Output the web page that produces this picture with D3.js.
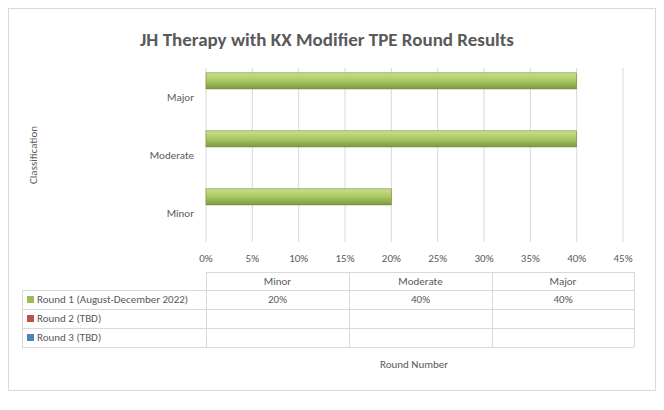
<!DOCTYPE html><html><head><meta charset="utf-8"><script src="https://cdn.jsdelivr.net/npm/d3@7"></script>
<style>body{margin:0;background:#fff}text{font-family:Calibri,Carlito,"Open Sans",sans-serif;fill:#595959}</style></head><body><svg id="c" width="664" height="410"></svg><script>
const categories=["Minor","Moderate","Major"];
const seriesNames=["Round 1 (August-December 2022)","Round 2 (TBD)","Round 3 (TBD)"];
const round1=[0.20,0.40,0.40];
const round2=[null,null,null];
const round3=[null,null,null];
const ticks=[0,0.05,0.10,0.15,0.20,0.25,0.30,0.35,0.40,0.45];
const colors=["#9bbb59","#c0504d","#4f81bd"];
const svg=d3.select("#c");
svg.append("rect").attr("x",8.5).attr("y",8.5).attr("width",647).attr("height",382).attr("fill","#fff").attr("stroke","#d9d9d9");
svg.append("text").attr("x",327).attr("y",46).attr("text-anchor","middle").attr("font-size",19).attr("font-weight","bold").text("JH Therapy with KX Modifier TPE Round Results");
const x=d3.scaleLinear().domain([0,0.45]).range([206,623]);
const y=d3.scaleBand().domain(categories.slice().reverse()).range([68,242]);
const g=svg.append("g");
ticks.forEach(t=>{g.append("line").attr("x1",x(t)).attr("x2",x(t)).attr("y1",68).attr("y2",242).attr("stroke","#d9d9d9");
g.append("text").attr("x",x(t)).attr("y",262).attr("text-anchor","middle").attr("font-size",11).text(d3.format(".0%")(t));});
const defs=svg.append("defs");
const gr=defs.append("linearGradient").attr("id","gb").attr("x1",0).attr("y1",0).attr("x2",0).attr("y2",1);
[["0%","#c9e08a"],["50%","#a8c862"],["100%","#7f9a3e"]].forEach(s=>gr.append("stop").attr("offset",s[0]).attr("stop-color",s[1]));
const all=[round1,round2,round3];
const sub=d3.scaleBand().domain([0,1,2]).range([0,y.bandwidth()]).paddingInner(0).paddingOuter(0.3);
all.forEach((vals,si)=>vals.forEach((v,i)=>{if(v==null)return;
g.append("rect").attr("x",x(0)).attr("y",y(categories[i])+sub(si)).attr("width",x(v)-x(0)).attr("height",sub.bandwidth()).attr("fill",si==0?"url(#gb)":colors[si]).attr("stroke","#6f8a35").attr("stroke-width",0.6);}));
categories.forEach(c=>g.append("text").attr("x",194).attr("y",y(c)+y.bandwidth()/2+4).attr("text-anchor","end").attr("font-size",11).text(c));
svg.append("text").attr("transform","translate(37,155) rotate(-90)").attr("text-anchor","middle").attr("font-size",11).text("Classification");
// table
const cols=[206,349,492,634], rows=[272,290,309,328,347];
const tg=svg.append("g").attr("stroke","#d9d9d9").attr("fill","none");
tg.append("line").attr("x1",206).attr("x2",634).attr("y1",272.5).attr("y2",272.5);
rows.slice(1).forEach(r=>tg.append("line").attr("x1",22).attr("x2",634).attr("y1",r+.5).attr("y2",r+.5));
tg.append("line").attr("x1",22.5).attr("x2",22.5).attr("y1",290).attr("y2",347);
cols.forEach(c=>tg.append("line").attr("x1",c+.5).attr("x2",c+.5).attr("y1",272).attr("y2",347));
categories.forEach((c,i)=>svg.append("text").attr("x",(cols[i]+cols[i+1])/2).attr("y",285).attr("text-anchor","middle").attr("font-size",11).text(c));
seriesNames.forEach((n,si)=>{const ry=rows[si+1];
svg.append("rect").attr("x",27).attr("y",ry+6).attr("width",7).attr("height",7).attr("fill",colors[si]);
svg.append("text").attr("x",37).attr("y",ry+13).attr("font-size",11).text(n);
all[si].forEach((v,i)=>{if(v!=null)svg.append("text").attr("x",(cols[i]+cols[i+1])/2).attr("y",ry+13).attr("text-anchor","middle").attr("font-size",11).text(d3.format(".0%")(v));});});
svg.append("text").attr("x",414).attr("y",368).attr("text-anchor","middle").attr("font-size",11).text("Round Number");
</script></body></html>
